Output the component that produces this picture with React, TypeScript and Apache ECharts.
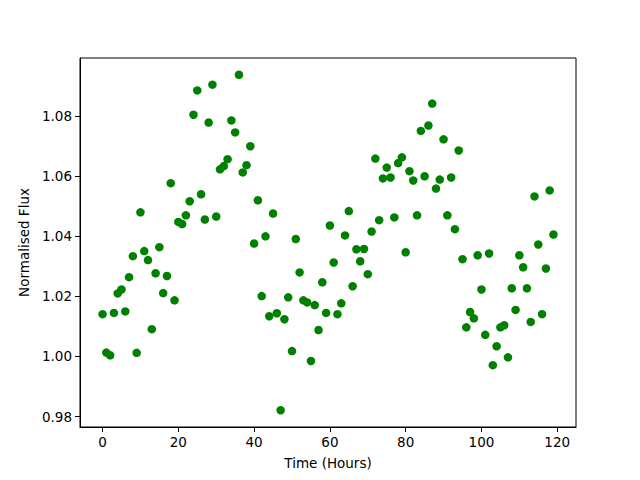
import React, { useEffect, useRef } from "react";
import * as echarts from "echarts";

const hours: number[] = Array.from({ length: 120 }, (_, i) => i);

const flux: number[] = [
  1.0141, 1.0013, 1.0004, 1.0145, 1.021, 1.0223, 1.015, 1.0264, 1.0334, 1.0012,
  1.048, 1.0351, 1.0321, 1.0091, 1.0277, 1.0364, 1.0211, 1.0268, 1.0577, 1.0187,
  1.0448, 1.0441, 1.047, 1.0517, 1.0805, 1.0886, 1.054, 1.0456, 1.0779, 1.0905,
  1.0466, 1.0623, 1.0634, 1.0657, 1.0786, 1.0746, 1.0938, 1.0613, 1.0637, 1.07,
  1.0376, 1.052, 1.0201, 1.04, 1.0134, 1.0476, 1.0144, 0.9821, 1.0124, 1.0197,
  1.0018, 1.0391, 1.028, 1.0187, 1.018, 0.9985, 1.0171, 1.0088, 1.0247, 1.0145,
  1.0436, 1.0313, 1.0141, 1.0177, 1.0403, 1.0484, 1.0234, 1.0357, 1.0317, 1.0358,
  1.0274, 1.0416, 1.0659, 1.0454, 1.0593, 1.0629, 1.0596, 1.0463, 1.0644, 1.0663,
  1.0347, 1.0617, 1.0586, 1.047, 1.0751, 1.06, 1.0769, 1.0842, 1.0559, 1.0589,
  1.0723, 1.047, 1.0596, 1.0424, 1.0686, 1.0324, 1.0097, 1.0148, 1.0127, 1.0337,
  1.0223, 1.0072, 1.0343, 0.9971, 1.0034, 1.0097, 1.0104, 0.9997, 1.0227, 1.0155,
  1.0337, 1.0297, 1.0227, 1.0115, 1.0533, 1.0373, 1.0141, 1.0293, 1.0553, 1.0406,
];

const xTicks: number[] = [0, 20, 40, 60, 80, 100, 120];
const yTicks: number[] = [0.98, 1.0, 1.02, 1.04, 1.06, 1.08];

const xLabel = "Time (Hours)";
const yLabel = "Normalised Flux";

export default function App() {
  const ref = useRef<HTMLDivElement>(null);

  useEffect(() => {
    if (!ref.current) return;
    const chart = echarts.init(ref.current, null, { renderer: "svg" });

    const xMinData = Math.min(...hours);
    const xMaxData = Math.max(...hours);
    const xPad = (xMaxData - xMinData) * 0.05;
    const yMinData = Math.min(...flux);
    const yMaxData = Math.max(...flux);
    const yPad = (yMaxData - yMinData) * 0.05;

    const font = "DejaVu Sans";

    chart.setOption({
      animation: false,
      backgroundColor: "#ffffff",
      textStyle: { fontFamily: font },
      grid: {
        left: 80,
        right: 64,
        top: 58,
        bottom: 53,
        containLabel: false,
        show: true,
        borderColor: "#000000",
        borderWidth: 1,
        backgroundColor: "transparent",
      },
      xAxis: {
        type: "value",
        min: xMinData - xPad,
        max: xMaxData + xPad,
        splitLine: { show: false },
        axisLine: { show: true, onZero: false, lineStyle: { color: "#000", width: 1 } },
        axisTick: {
          show: true,
          inside: false,
          length: 5,
          customValues: xTicks,
          lineStyle: { color: "#000" },
        },
        axisLabel: {
          customValues: xTicks,
          color: "#000",
          fontSize: 13.5,
          fontFamily: font,
          margin: 8,
          formatter: (v: number) => String(Math.round(v)),
        },
        name: xLabel,
        nameLocation: "middle",
        nameGap: 29,
        nameTextStyle: { color: "#000", fontSize: 13.5, fontFamily: font },
      },
      yAxis: {
        type: "value",
        min: yMinData - yPad,
        max: yMaxData + yPad,
        splitLine: { show: false },
        axisLine: { show: true, onZero: false, lineStyle: { color: "#000", width: 1 } },
        axisTick: {
          show: true,
          inside: false,
          length: 5,
          customValues: yTicks,
          lineStyle: { color: "#000" },
        },
        axisLabel: {
          customValues: yTicks,
          color: "#000",
          fontSize: 13.5,
          fontFamily: font,
          margin: 8,
          formatter: (v: number) => v.toFixed(2),
        },
        name: yLabel,
        nameLocation: "middle",
        nameGap: 46,
        nameRotate: 90,
        nameTextStyle: { color: "#000", fontSize: 13.5, fontFamily: font },
      },
      series: [
        {
          type: "scatter",
          data: hours.map((h, i) => [h, flux[i]]),
          symbol: "circle",
          symbolSize: 8.5,
          itemStyle: { color: "#008000", opacity: 1 },
          emphasis: { disabled: true },
        },
      ],
    });

    return () => chart.dispose();
  }, []);

  return (
    <div
      ref={ref}
      style={{ position: "absolute", left: 0, top: 0, width: 640, height: 480 }}
    />
  );
}
